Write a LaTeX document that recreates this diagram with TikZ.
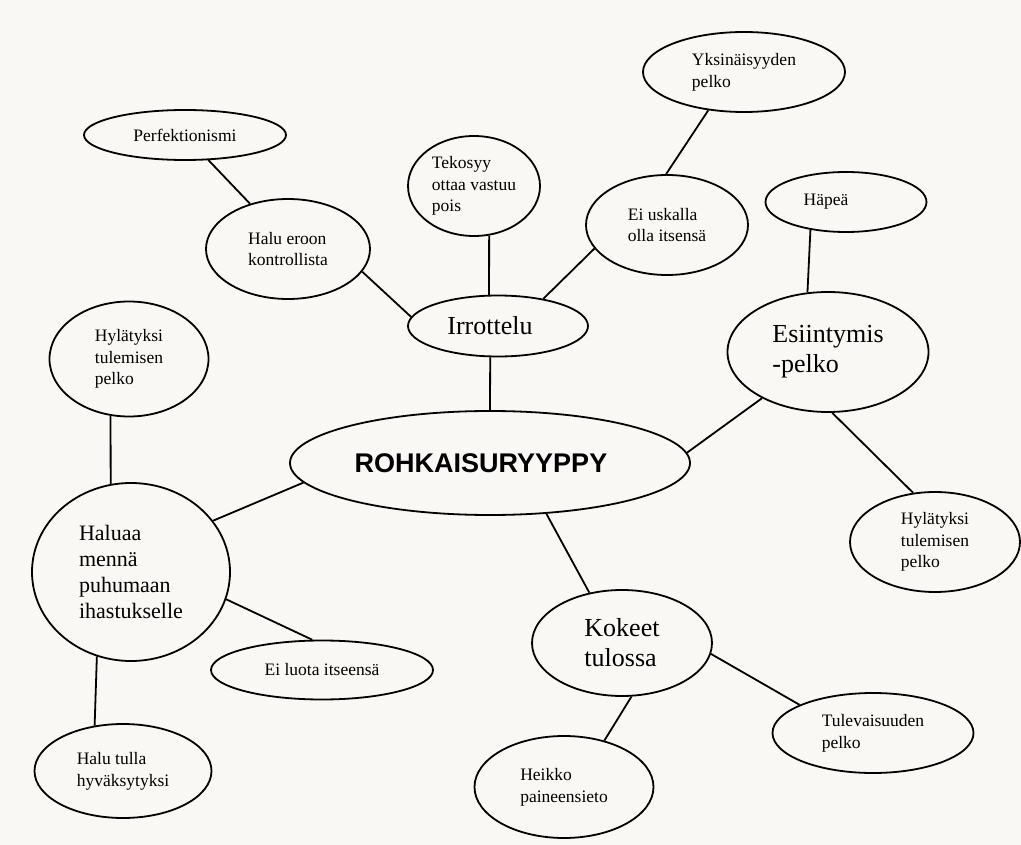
\documentclass[tikz,border=0pt]{standalone}
\usepackage{fontspec}
\setmainfont{Liberation Serif}
\newfontfamily\headfont{Liberation Sans}
\usetikzlibrary{shapes.geometric}
\definecolor{paper}{RGB}{249,248,244}
\begin{document}
\begin{tikzpicture}[x=1pt,y=-1pt,
  bub/.style={draw, ellipse, inner sep=0pt, align=left, line width=1.8pt},
  sm/.style={font=\fontsize{17.5}{21.7}\selectfont},
  md/.style={font=\fontsize{22}{25.7}\selectfont},
  lg/.style={font=\fontsize{26}{30}\selectfont},
  link/.style={line width=1.8pt}]
\fill[paper] (0,0) rectangle (1021,845);
\useasboundingbox (0,0) rectangle (1021,845);

\node[bub,sm,minimum width=202,minimum height=50] (perf) at (185,135) {Perfektionismi};
\node[bub,sm,minimum width=164,minimum height=100] (halu) at (288,249) {Halu eroon\\kontrollista};
\node[bub,sm,minimum width=132,minimum height=100] (tek) at (474,186) {Tekosyy\\ottaa vastuu\\pois};
\node[bub,lg,minimum width=180,minimum height=61] (irr) at (498,326) {\hspace*{-16pt}Irrottelu};
\node[bub,sm,minimum width=202,minimum height=80] (yks) at (744,72) {Yksinäisyyden\\pelko};
\node[bub,sm,minimum width=162,minimum height=100] (eiu) at (667,225) {Ei uskalla\\olla itsensä};
\node[bub,sm,minimum width=161,minimum height=60] (hap) at (846,202) {\hspace*{-40pt}Häpeä};
\node[bub,lg,minimum width=201,minimum height=120] (esi) at (828,352) {Esiintymis\\-pelko};
\node[bub,minimum width=400,minimum height=104,font=\headfont\bfseries\fontsize{27}{30}\selectfont] (rohk) at (490,463) {\hspace*{-18pt}ROHKAISURYYPPY};
\node[bub,sm,minimum width=159,minimum height=115] (hyl1) at (129,359) {Hylätyksi\\tulemisen\\pelko};
\node[bub,md,minimum width=198,minimum height=178] (hal) at (131,572) {Haluaa\\mennä\\puhumaan\\ihastukselle};
\node[bub,sm,minimum width=222,minimum height=59] (eil) at (322,670) {Ei luota itseensä};
\node[bub,sm,minimum width=177,minimum height=94] (hut) at (123,771) {Halu tulla\\hyväksytyksi};
\node[bub,sm,minimum width=170,minimum height=100] (hyl2) at (935,542) {Hylätyksi\\tulemisen\\pelko};
\node[bub,lg,minimum width=180,minimum height=106] (kok) at (622,643) {Kokeet\\tulossa};
\node[bub,sm,minimum width=201,minimum height=80] (tul) at (873,733) {Tulevaisuuden\\pelko};
\node[bub,sm,minimum width=179,minimum height=102] (hei) at (564,787) {Heikko\\paineensieto};

\draw[link] (perf.-47.5) -- (halu.130);
\draw[link] (halu.-17.3) -- (irr.174.8);
\draw[link] (tek.-73.3) -- (irr.106.7);
\draw[link] (irr.-104.5) -- (rohk.90);
\draw[link] (eiu.198.7) -- (irr.31.8);
\draw[link] (yks.-133.6) -- (eiu.91);
\draw[link] (hap.-142.4) -- (esi.109.3);
\draw[link] (esi.-145.6) -- (rohk.3.1);
\draw[link] (esi.-86) -- (hyl2.114.7);
\draw[link] (rohk.-42) -- (kok.123);
\draw[link] (kok.-7.6) -- (tul.159);
\draw[link] (kok.-80.4) -- (hei.49);
\draw[link] (hyl1.-108) -- (hal.103);
\draw[link] (rohk.186.5) -- (hal.32.9);
\draw[link] (hal.-16.5) -- (eil.108.4);
\draw[link] (hal.-112.7) -- (hut.122.5);
\end{tikzpicture}
\end{document}
